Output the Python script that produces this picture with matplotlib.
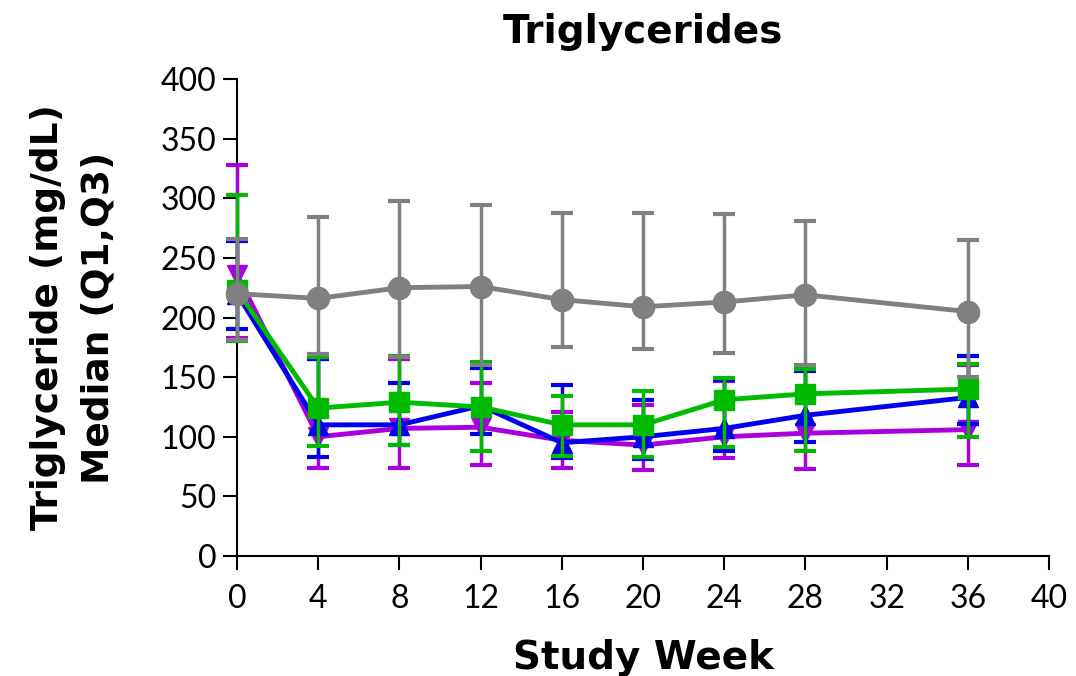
import matplotlib
matplotlib.use("Agg")
import matplotlib.pyplot as plt

plt.rcParams["font.family"] = ["Lato", "DejaVu Sans"]

# study weeks
weeks = [0, 4, 8, 12, 16, 20, 24, 28, 36]

# gray / circles
gray_med = [220, 216, 225, 226, 215, 209, 213, 219, 205]
gray_q1 = [181, 169, 167, 160, 175, 174, 170, 160, 150]
gray_q3 = [266, 284, 298, 294, 288, 288, 287, 281, 265]

# green / squares
green_med = [223, 124, 129, 125, 110, 110, 131, 136, 140]
green_q1 = [180, 92, 93, 88, 84, 83, 91, 88, 100]
green_q3 = [303, 167, 168, 163, 134, 138, 149, 157, 161]

# blue / up triangles
blue_med = [220, 110, 110, 126, 95, 100, 107, 118, 133]
blue_q1 = [190, 83, 93, 102, 82, 81, 88, 96, 111]
blue_q3 = [264, 165, 145, 158, 143, 131, 148, 155, 168]

# purple / down triangles
purple_med = [236, 100, 107, 108, 97, 93, 100, 103, 106]
purple_q1 = [183, 74, 74, 76, 74, 72, 82, 73, 76]
purple_q3 = [328, 165, 165, 145, 121, 127, 147, 159, 160]

series = [
    (purple_med, purple_q1, purple_q3, "#aa00dd", "v", 15),
    (blue_med, blue_q1, blue_q3, "#0000ee", "^", 15),
    (green_med, green_q1, green_q3, "#00bb00", "s", 15),
    (gray_med, gray_q1, gray_q3, "#808080", "o", 16),
]

bold = ["DejaVu Sans"]

fig = plt.figure(figsize=(10.76, 6.76), dpi=100)
ax = fig.add_axes([0.2203, 0.1775, 0.7547, 0.7056])

for z, (med, q1, q3, col, mk, ms) in enumerate(series):
    lo = [m - a for m, a in zip(med, q1)]
    hi = [b - m for m, b in zip(med, q3)]
    ax.errorbar(weeks, med, yerr=[lo, hi], color=col, marker=mk, markersize=ms,
                linewidth=3.5, elinewidth=2.5, capsize=8, capthick=3,
                clip_on=False, zorder=3 + z)

ax.set_xlim(0, 40)
ax.set_ylim(0, 400)
ax.set_xticks(range(0, 41, 4))
ax.set_yticks(range(0, 401, 50))
ax.tick_params(length=10, width=1.5, labelsize=23)
ax.tick_params(axis="y", pad=5)
ax.tick_params(axis="x", pad=10)
for s in ["top", "right"]:
    ax.spines[s].set_visible(False)
for s in ["left", "bottom"]:
    ax.spines[s].set_linewidth(1.5)

ax.set_title("Triglycerides", fontsize=28, fontweight="bold", family=bold, pad=26)
ax.set_xlabel("Study Week", fontsize=28, fontweight="bold", family=bold, labelpad=18)
ax.set_ylabel("Triglyceride (mg/dL)\nMedian (Q1,Q3)", fontsize=27, family=bold,
              fontweight="bold", labelpad=32, linespacing=1.5)

plt.savefig("out.png", dpi=100)
